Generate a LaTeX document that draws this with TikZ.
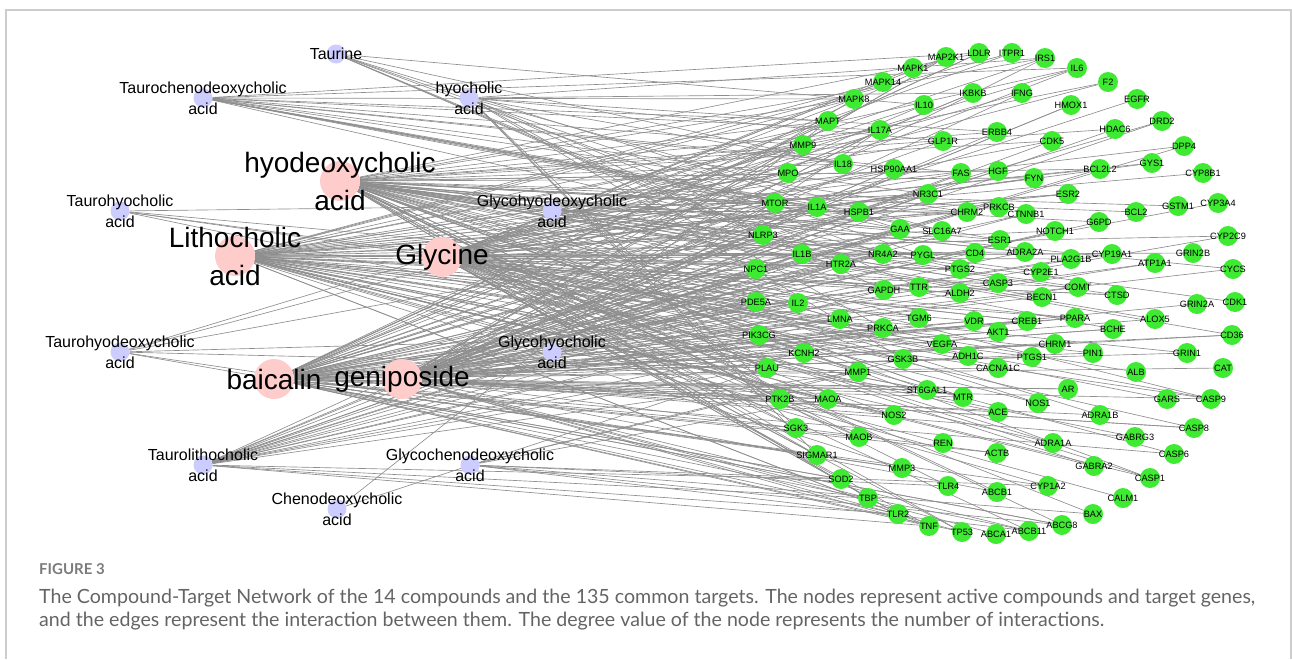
\documentclass[tikz,border=0pt]{standalone}
\usepackage{fontspec}
\setmainfont{Liberation Sans}
\newfontfamily\capfont{Lato}
\pgfdeclarelayer{bg}
\pgfsetlayers{bg,main}
\definecolor{tgreen}{RGB}{62,234,50}
\definecolor{cblue}{RGB}{204,204,255}
\definecolor{cpink}{RGB}{255,204,204}
\definecolor{edgecol}{RGB}{142,142,142}
\definecolor{framecol}{RGB}{205,205,205}
\definecolor{capcol}{RGB}{100,100,100}
\def\tlist{MAP2K1/946/57,LDLR/979/53,ITPR1/1012/53,IRS1/1045/58,IL6/1077/68,F2/1108/82,EGFR/1137/99,DRD2/1162/121,DPP4/1184/146,CYP8B1/1203/173,CYP3A4/1218/203,CYP2C9/1228/236,CYCS/1233/269,CDK1/1235/302,CD36/1232/335,CAT/1223/368,CASP9/1211/399,CASP8/1194/428,CASP6/1174/454,CASP1/1150/478,CALM1/1123/498,BAX/1093/514,ABCG8/1062/525,ABCB11/1029/531,ABCA1/996/534,TP53/962/532,TNF/929/526,TLR2/898/514,TBP/868/498,SOD2/841/479,SIGMAR1/817/455,SGK3/796/428,PTK2B/780/399,PLAU/767/368,PIK3CG/759/335,PDE5A/756/302,NPC1/756/269,NLRP3/763/235,MTOR/775/203,MPO/788/173,MMP9/803/145,MAPT/828/121,MAPK8/854/99,MAPK14/883/82,MAPK1/913/68,%
IL10/924/105,IL17A/880/130,IL18/843/164,IL1A/817/207,IL1B/802/254,IL2/798/303,KCNH2/804/353,MAOA/828/399,MAOB/859/437,MMP3/902/468,TLR4/948/486,ABCB1/997/492,CYP1A2/1048/486,GABRA2/1094/466,GABRG3/1135/437,GARS/1167/399,GRIN1/1187/353,GRIN2A/1197/304,GRIN2B/1193/253,GSTM1/1178/206,GYS1/1152/163,HDAC6/1115/129,HMOX1/1071/105,IFNG/1022/93,IKBKB/973/93,%
HSP90AA1/894/169,GLP1R/943/141,ERBB4/997/132,CDK5/1052/141,BCL2L2/1100/169,BCL2/1136/212,ATP1A1/1155/263,ALOX5/1155/319,ALB/1136/372,ADRA1B/1100/415,ADRA1A/1053/443,ACTB/997/453,REN/943/443,NOS2/894/415,MMP1/858/372,LMNA/840/319,HTR2A/841/264,HSPB1/859/212,%
NR3C1/928/194,FAS/961/173,HGF/998/171,FYN/1034/178,ESR2/1068/194,G6PD/1099/222,CYP19A1/1112/254,CTSD/1117/295,BCHE/1113/329,PIN1/1093/353,AR/1068/389,NOS1/1038/403,ACE/998/412,MTR/963/397,ST6GAL1/927/390,GSK3B/903/359,PRKCA/883/328,GAPDH/884/290,NR4A2/883/254,GAA/900/229,%
PYGL/923/255,TTR/919/287,TGM6/919/318,VEGFA/942/344,ADH1C/968/356,CACNA1C/998/368,PTGS1/1032/357,CHRM1/1055/344,PPARA/1075/318,COMT/1078/287,PLA2G1B/1071/259,NOTCH1/1055/231,CTNNB1/1026/214,PRKCB/999/207,CHRM2/967/212,SLC16A7/942/231,%
ESR1/1000/240,CD4/975/253,PTGS2/960/269,ALDH2/960/293,VDR/974/321,AKT1/998/332,CREB1/1027/321,BECN1/1042/297,CYP2E1/1041/272,ADRA2A/1025/252,CASP3/998/283}
\begin{document}
\begin{tikzpicture}[x=1pt,y=-1pt,
  tnode/.style={circle,fill=tgreen,draw=none,minimum size=20pt,inner sep=0pt,font=\fontsize{9.2}{10}\selectfont},
  snode/.style={circle,fill=cblue,draw=none,minimum size=19pt,inner sep=0pt},
  bnode/.style={circle,fill=cpink,draw=none,minimum size=40pt,inner sep=0pt},
  slab/.style={font=\fontsize{16}{21}\selectfont,align=center,inner sep=0pt},
  blab/.style={font=\fontsize{28}{38}\selectfont,align=center,inner sep=0pt},
  edge/.style={draw=edgecol,line width=0.65pt},
  capfig/.style={font=\capfont\bfseries\fontsize{15}{16}\selectfont,text=capcol!85!white,inner sep=0pt,anchor=west},
  captext/.style={font=\capfont\fontsize{19.6}{22}\selectfont,text=capcol,inner sep=0pt,anchor=west}]
\useasboundingbox (0,0) rectangle (1292,659);
\draw[framecol,line width=1.2pt] (6,659) -- (6,10) -- (1291,10) -- (1291,659);

% target nodes
\foreach \n/\x/\y in \tlist { \node[tnode] (\n) at (\x,\y) {\makebox[0pt]{\n}}; }

% compound nodes
\node[snode,label={[slab]center:Taurine}] (taurine) at (336,54) {};
\node[snode,label={[slab]center:{Taurochenodeoxycholic\\acid}}] (tcdca) at (203,98) {};
\node[snode,label={[slab]center:{hyocholic\\acid}}] (hca) at (469,98) {};
\node[snode,label={[slab]center:{Taurohyocholic\\acid}}] (thca) at (120,211) {};
\node[snode,label={[slab]center:{Glycohyodeoxycholic\\acid}}] (ghdca) at (552,211) {};
\node[snode,label={[slab]center:{Taurohyodeoxycholic\\acid}}] (thdca) at (120,352) {};
\node[snode,label={[slab]center:{Glycohyocholic\\acid}}] (ghca) at (552,352) {};
\node[snode,label={[slab]center:{Taurolithocholic\\acid}}] (tlca) at (203,465) {};
\node[snode,label={[slab]center:{Glycochenodeoxycholic\\acid}}] (gcdca) at (470,465) {};
\node[snode,label={[slab]center:{Chenodeoxycholic\\acid}}] (cdca) at (337,509) {};
\node[bnode,label={[blab]center:{hyodeoxycholic\\acid}}] (hdca) at (340,181) {};
\node[bnode,label={[blab]center:{Lithocholic\\acid}}] (lca) at (235,256) {};
\node[bnode,label={[blab]center:Glycine}] (gly) at (442,257) {};
\node[bnode,label={[blab]center:baicalin}] (bai) at (274,379) {};
\node[bnode,label={[blab]center:geniposide}] (gen) at (402,379) {};

% edges
\begin{pgfonlayer}{bg}
\pgfmathsetseed{2024}
% every target gets at least one compound
\foreach \t/\x/\y in \tlist{
  \pgfmathtruncatemacro\k{random(1,5)}
  \ifcase\k\or\draw[edge] (hdca) -- (\t);\or\draw[edge] (lca) -- (\t);\or\draw[edge] (gly) -- (\t);\or\draw[edge] (bai) -- (\t);\or\draw[edge] (gen) -- (\t);\fi
}
\foreach \c/\p in {hdca/0.33,lca/0.37,gly/0.31,bai/0.36,gen/0.41}{
  \foreach \t/\x/\y in \tlist{
    \pgfmathtruncatemacro\hit{(rnd<\p*(1.25-0.9*(\x-750)/490))}
    \ifnum\hit>0 \draw[edge] (\c) -- (\t);\fi
  }
}
\foreach \t in {IL10,IL1B,HTR2A,NR4A2,GAA,PYGL,NLRP3,IL18} \draw[edge] (taurine) -- (\t);
\foreach \t in {LDLR,IL6,MAPK8,MAPT,MMP9,IL17A,HSP90AA1,NR3C1,FAS,IL1A,HSPB1,MTOR,GAA,SLC16A7,CHRM2,ESR1,PTGS2} \draw[edge] (tcdca) -- (\t);
\foreach \t in {IRS1,IKBKB,GLP1R,ERBB4,IL18,SLC16A7,TTR,GAPDH,PRKCA,GSK3B,SGK3,PTK2B,SIGMAR1} \draw[edge] (hca) -- (\t);
\foreach \t in {MTOR,NPC1,PDE5A,IL2,KCNH2} \draw[edge] (thca) -- (\t);
\foreach \t in {IL1A,HSPB1,NR3C1,CHRM2,MPO} \draw[edge] (ghdca) -- (\t);
\foreach \t in {MMP9,MPO,NLRP3,PIK3CG,SOD2,MMP3,PLAU} \draw[edge] (thdca) -- (\t);
\foreach \t in {IL17A,IL1B,LMNA,PRKCA,ST6GAL1} \draw[edge] (ghca) -- (\t);
\foreach \t in {TLR2,TNF,SOD2,TBP,HSPB1,IL1A,IL1B,NLRP3,NPC1,HTR2A,NR4A2,GAA,MTOR,IL2,PDE5A,PIK3CG,GAPDH,PRKCA,LMNA,KCNH2,PLAU,MMP1} \draw[edge] (tlca) -- (\t);
\foreach \t in {BAX,ABCG8,ABCB11,TLR4,CYP1A2,MAOA,MMP1,GSK3B} \draw[edge] (gcdca) -- (\t);
\foreach \t in {MAPT,PLAU} \draw[edge] (cdca) -- (\t);
\end{pgfonlayer}

% caption
\node[capfig] (fig) at (39,569) {FIGURE 3};
\node[captext] (cap1) at (39,598) {The Compound-Target Network of the 14 compounds and the 135 common targets. The nodes represent active compounds and target genes,};
\node[captext] (cap2) at (39,621) {and the edges represent the interaction between them. The degree value of the node represents the number of interactions.};
\end{tikzpicture}
\end{document}
